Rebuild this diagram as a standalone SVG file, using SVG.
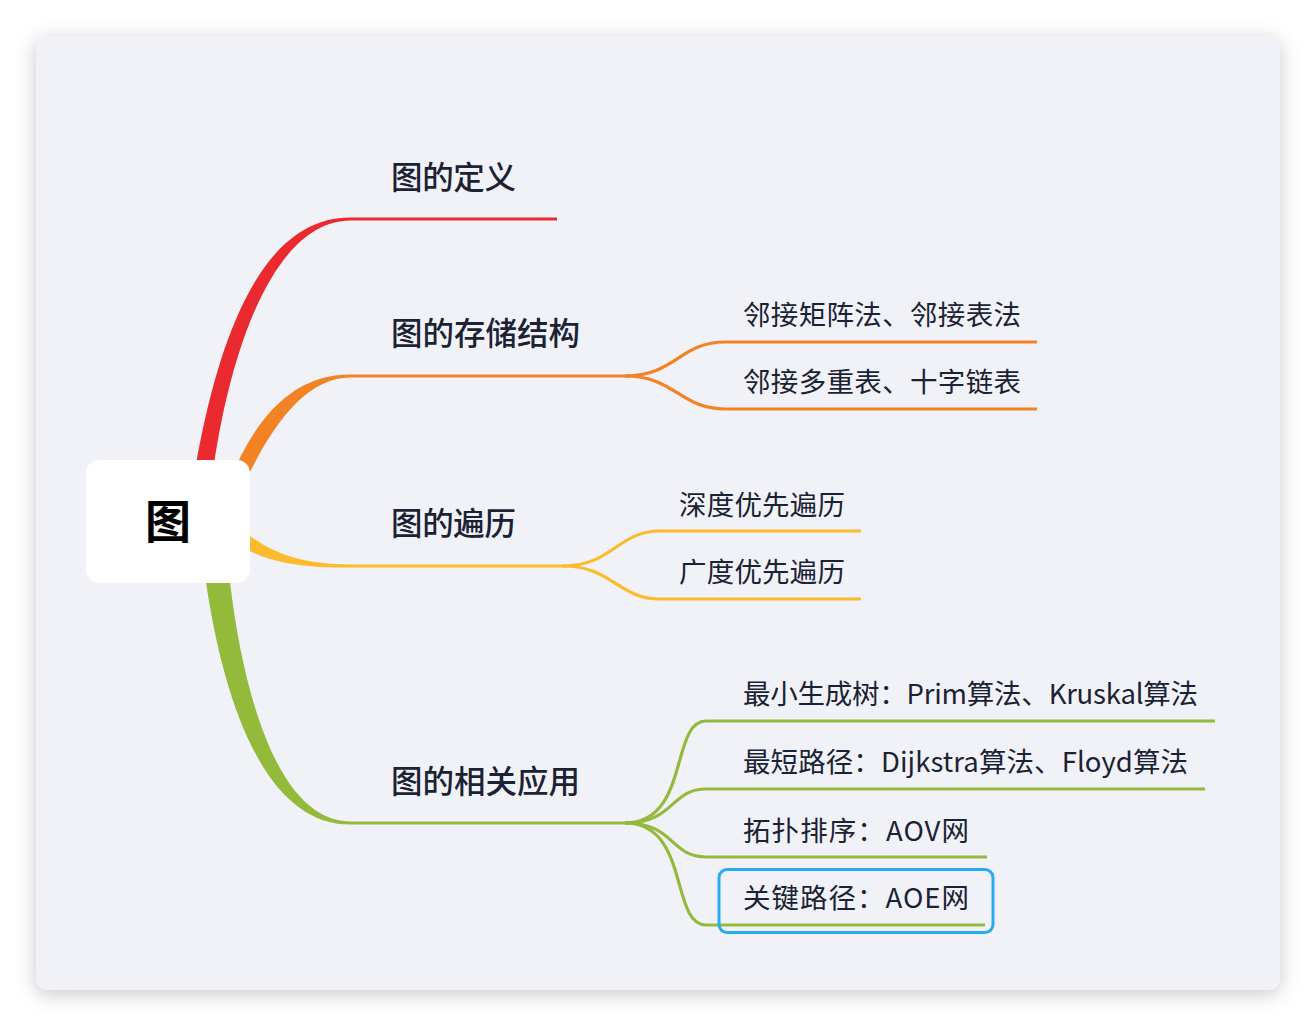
<svg xmlns="http://www.w3.org/2000/svg" width="1316" height="1026" viewBox="0 0 1316 1026">
<defs>
<filter id="sh" x="-10%" y="-10%" width="120%" height="120%">
<feDropShadow dx="0" dy="4" stdDeviation="10" flood-color="#000" flood-opacity="0.22"/>
</filter>
<style>
.main{font-family:"Noto Sans CJK SC","Noto Sans",sans-serif;font-size:31.5px;font-weight:500;fill:#1b2233}
.sub{font-family:"Noto Sans CJK SC","Noto Sans",sans-serif;font-size:27.5px;font-weight:400;fill:#1b2233}
.root{font-family:"Noto Sans CJK SC",sans-serif;font-size:46px;font-weight:700;fill:#000}
.ln{fill:none;stroke-width:3.2;stroke-linecap:butt}
.r{stroke:#ea2a2f}.o{stroke:#f38224}.y{stroke:#fbbb2c}.g{stroke:#93ba3b}
</style>
</defs>
<rect x="0" y="0" width="1316" height="1026" fill="#ffffff"/>
<rect x="36" y="36" width="1244" height="954" rx="12" fill="#f1f2f8" filter="url(#sh)"/>
<g id="connectors">
<path fill="#ea2a2f" d="M196,464 C222,320 268,217.4 350,217.4 L557,217.4 L557,220.6 L350,220.6 C284,221 236,320 214,464 Z"/>
<path fill="#f38224" d="M236,466 C262,410 298,374.4 350,374.4 L630,374.4 L630,377.6 L350,377.6 C308,378 276,420 250,472 Z"/>
<path fill="#fbbb2c" d="M250,536 C280,558 312,564.4 350,564.4 L565,564.4 L565,567.6 L350,567.6 C305,567.6 274,563 250,551 Z"/>
<path fill="#93ba3b" d="M206,582 C224,705 266,824.6 350,824.6 L628,824.6 L628,821.4 L350,821.4 C280,821 244,700 230,582 Z"/>
<path class="ln o" d="M625,376 C675,376 680,342 725,342 L1037,342"/>
<path class="ln o" d="M625,376 C675,376 680,409 725,409 L1037,409"/>
<path class="ln y" d="M563,566 C612,566 618,531 660,531 L861,531"/>
<path class="ln y" d="M563,566 C612,566 618,599 660,599 L861,599"/>
<path class="ln g" d="M625,823 C690,823 670,721 706,721 L1215,721"/>
<path class="ln g" d="M625,823 C675,823 670,789 706,789 L1205,789"/>
<path class="ln g" d="M625,823 C675,823 670,857 706,857 L987,857"/>
<path class="ln g" d="M625,823 C690,823 670,925 706,925 L985,925"/>
</g>
<g id="root">
<rect x="86" y="460" width="164" height="123" rx="13" fill="#ffffff"/>
<text class="root" x="168" y="538" text-anchor="middle">图</text>
</g>
<g id="n1"><text class="main" x="391" y="189" textLength="125" lengthAdjust="spacing">图的定义</text></g>
<g id="n2"><text class="main" x="391" y="345" textLength="189" lengthAdjust="spacing">图的存储结构</text></g>
<g id="n3"><text class="main" x="391" y="535" textLength="125" lengthAdjust="spacing">图的遍历</text></g>
<g id="n4"><text class="main" x="391" y="793" textLength="189" lengthAdjust="spacing">图的相关应用</text></g>
<g id="n2a"><text class="sub" x="743" y="325" textLength="278" lengthAdjust="spacing">邻接矩阵法、邻接表法</text></g>
<g id="n2b"><text class="sub" x="743" y="392" textLength="278" lengthAdjust="spacing">邻接多重表、十字链表</text></g>
<g id="n3a"><text class="sub" x="679" y="515" textLength="166" lengthAdjust="spacing">深度优先遍历</text></g>
<g id="n3b"><text class="sub" x="679" y="582" textLength="166" lengthAdjust="spacing">广度优先遍历</text></g>
<g id="n4a"><text class="sub" x="743" y="704" textLength="455" lengthAdjust="spacing">最小生成树：Prim算法、Kruskal算法</text></g>
<g id="n4b"><text class="sub" x="743" y="772" textLength="445" lengthAdjust="spacing">最短路径：Dijkstra算法、Floyd算法</text></g>
<g id="n4c"><text class="sub" x="743" y="841" textLength="226" lengthAdjust="spacing">拓扑排序：AOV网</text></g>
<g id="n4d"><text class="sub" x="743" y="908" textLength="226" lengthAdjust="spacing">关键路径：AOE网</text>
<rect x="719" y="869.5" width="274" height="63" rx="8" fill="none" stroke="#2aaaf3" stroke-width="3"/></g>
</svg>
